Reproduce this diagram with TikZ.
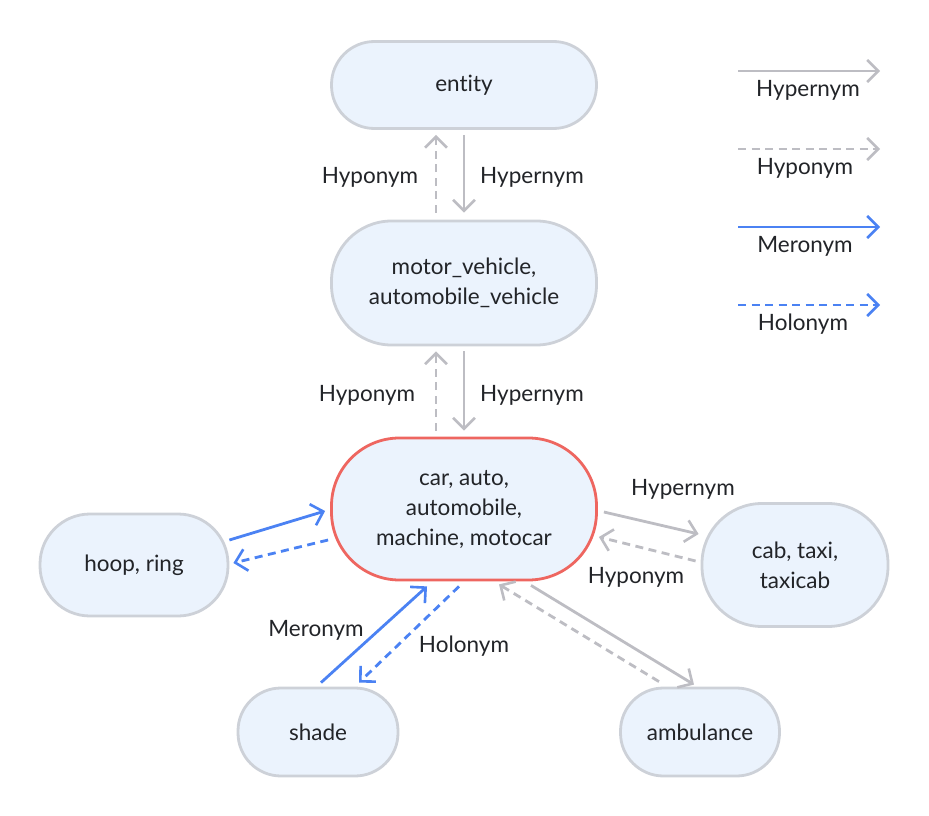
\documentclass[tikz,border=0pt]{standalone}
\usepackage{fontspec}
\setmainfont[Ligatures={NoCommon}]{Lato}
\usetikzlibrary{arrows.meta}
\definecolor{nodefill}{HTML}{EBF3FD}
\definecolor{nodeline}{HTML}{CDD1D8}
\definecolor{redline}{HTML}{EE6660}
\definecolor{greyarrow}{HTML}{BDBDC3}
\definecolor{bluearrow}{HTML}{4B82F3}
\definecolor{txt}{HTML}{222428}
\tikzset{
  synset/.style={draw=nodeline, line width=2.8pt, fill=nodefill, align=center, text=txt, font=\fontsize{22.5}{30}\selectfont, inner sep=0pt},
  focus/.style={synset, draw=redline},
  tip/.style={-{Straight Barb[length=11pt,width=22pt,line width=2.6pt]}},
  hyperarr/.style={tip, draw=greyarrow, line width=2.8pt},
  hypoarr/.style={tip, draw=greyarrow, line width=2.8pt, dash pattern=on 8pt off 5.5pt},
  meroarr/.style={tip, draw=bluearrow, line width=2.8pt},
  holoarr/.style={tip, draw=bluearrow, line width=2.8pt, dash pattern=on 8pt off 5.5pt},
  lbl/.style={text=txt, font=\fontsize{22.5}{30}\selectfont, inner sep=0pt}
}
\begin{document}
\begin{tikzpicture}[x=1pt,y=-1pt]
\useasboundingbox (0,0) rectangle (929,816);
% nodes
\node[synset, minimum width=265pt, minimum height=87pt, rounded corners=43pt] (entity) at (464,85) {entity};
\node[synset, minimum width=265pt, minimum height=124pt, rounded corners=60pt] (motor) at (464,283) {motor\_vehicle,\\automobile\_vehicle};
\node[focus, minimum width=265pt, minimum height=142pt, rounded corners=68pt] (car) at (464,509) {car, auto,\\automobile,\\machine, motocar};
\node[synset, minimum width=188pt, minimum height=102pt, rounded corners=50pt] (hoop) at (134,565) {hoop, ring};
\node[synset, minimum width=186pt, minimum height=123pt, rounded corners=60pt] (cab) at (795,565) {cab, taxi,\\taxicab};
\node[synset, minimum width=160pt, minimum height=88pt, rounded corners=43pt] (shade) at (318,732) {shade};
\node[synset, minimum width=159pt, minimum height=88pt, rounded corners=43pt] (amb) at (700,732) {ambulance};
% entity <-> motor
\draw[hyperarr] ([shift={(0,5)}]entity.south) -- ([shift={(0,-7)}]motor.north);
\draw[hypoarr] ([shift={(-28,-7)}]motor.north) -- ([shift={(-28,5)}]entity.south);
\node[lbl] (l1) at (370,177) {Hyponym};
\node[lbl] (l2) at (532,177) {Hypernym};
% motor <-> car
\draw[hyperarr] ([shift={(0,5)}]motor.south) -- ([shift={(0,-6)}]car.north);
\draw[hypoarr] ([shift={(-28,-6)}]car.north) -- ([shift={(-28,5)}]motor.south);
\node[lbl] (l3) at (367,395) {Hyponym};
\node[lbl] (l4) at (532,395) {Hypernym};
% car <-> cab
\draw[hyperarr] ([shift={(6,3)}]car.east) -- ([shift={(-2,-31)}]cab.west);
\draw[hypoarr] ([shift={(-5,-4)}]cab.west) -- ([shift={(1,28)}]car.east);
\node[lbl] (l5) at (683,489) {Hypernym};
\node[lbl] (l6) at (636,577) {Hyponym};
% car <-> ambulance
\draw[hyperarr] ([shift={(67,4)}]car.south) -- ([shift={(-6,-2)}]amb.north);
\draw[hypoarr] ([shift={(-41,-5)}]amb.north) -- ([shift={(35,3)}]car.south);
% hoop <-> car
\draw[meroarr] ([shift={(0,-25)}]hoop.east) -- ([shift={(-5,2)}]car.west);
\draw[holoarr] ([shift={(-2,31)}]car.west) -- ([shift={(4,-2)}]hoop.east);
% shade <-> car
\draw[meroarr] ([shift={(3,-4)}]shade.north) -- ([shift={(-37,5)}]car.south);
\draw[holoarr] ([shift={(-5,5)}]car.south) -- ([shift={(41,-4)}]shade.north);
\node[lbl] (l7) at (316,630) {Meronym};
\node[lbl] (l8) at (464,646) {Holonym};
% legend
\coordinate (g1s) at (738,71);  \coordinate (g1e) at (880,71);
\coordinate (g2s) at (738,149); \coordinate (g2e) at (880,149);
\coordinate (g3s) at (738,227); \coordinate (g3e) at (880,227);
\coordinate (g4s) at (738,305); \coordinate (g4e) at (880,305);
\draw[hyperarr] (g1s) -- (g1e);
\draw[hypoarr] (g2s) -- (g2e);
\draw[meroarr] (g3s) -- (g3e);
\draw[holoarr] (g4s) -- (g4e);
\node[lbl] (k1) at (808,90) {Hypernym};
\node[lbl] (k2) at (805,168) {Hyponym};
\node[lbl] (k3) at (805,246) {Meronym};
\node[lbl] (k4) at (803,324) {Holonym};
\end{tikzpicture}
\end{document}
